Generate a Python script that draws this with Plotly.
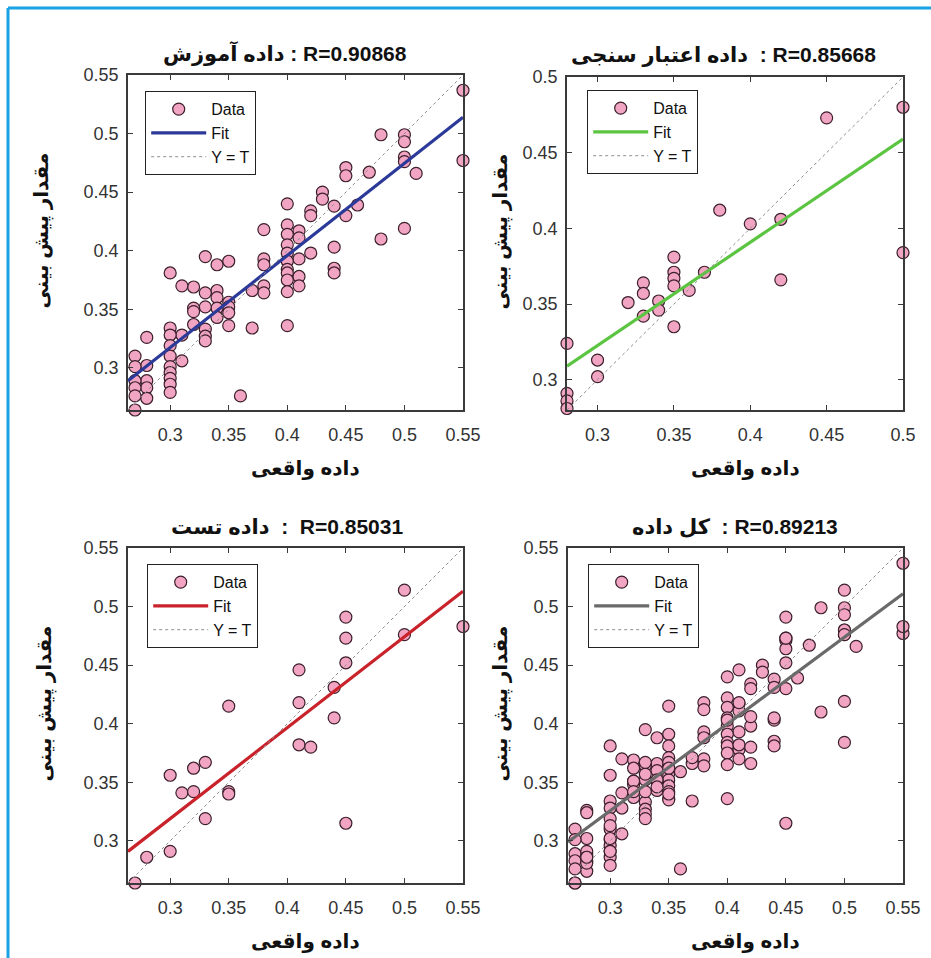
import plotly.graph_objects as go

# ---------------- data ----------------
train_x = [0.55, 0.55, 0.51, 0.50, 0.50, 0.50, 0.50, 0.50, 0.48, 0.48, 0.47, 0.46,
           0.45, 0.45, 0.45, 0.44, 0.44, 0.44, 0.44, 0.43, 0.43, 0.42, 0.42, 0.42,
           0.41, 0.41, 0.41, 0.41, 0.41,
           0.40, 0.40, 0.40, 0.40, 0.40, 0.40, 0.40, 0.40, 0.40, 0.40, 0.40,
           0.38, 0.38, 0.38, 0.38, 0.38, 0.37, 0.37, 0.36,
           0.35, 0.35, 0.35, 0.35, 0.35, 0.34, 0.34, 0.34, 0.34, 0.34,
           0.33, 0.33, 0.33, 0.33, 0.33, 0.33, 0.32, 0.32, 0.32, 0.32,
           0.31, 0.31, 0.31,
           0.30, 0.30, 0.30, 0.30, 0.30, 0.30, 0.30, 0.30, 0.30, 0.30,
           0.28, 0.28, 0.28, 0.28, 0.28,
           0.27, 0.27, 0.27, 0.27, 0.27, 0.27]
train_y = [0.537, 0.477, 0.466, 0.499, 0.493, 0.480, 0.476, 0.419, 0.499, 0.410, 0.467, 0.439,
           0.471, 0.464, 0.430, 0.438, 0.403, 0.385, 0.381, 0.450, 0.444, 0.434, 0.430, 0.398,
           0.417, 0.411, 0.393, 0.378, 0.370,
           0.440, 0.422, 0.414, 0.405, 0.398, 0.391, 0.384, 0.381, 0.375, 0.365, 0.336,
           0.418, 0.393, 0.388, 0.370, 0.364, 0.366, 0.334, 0.276,
           0.391, 0.356, 0.352, 0.347, 0.336, 0.388, 0.366, 0.360, 0.351, 0.343,
           0.395, 0.364, 0.352, 0.333, 0.327, 0.323, 0.369, 0.351, 0.348, 0.337,
           0.370, 0.328, 0.306,
           0.381, 0.334, 0.328, 0.319, 0.310, 0.301, 0.296, 0.291, 0.286, 0.279,
           0.326, 0.302, 0.289, 0.283, 0.274,
           0.310, 0.301, 0.289, 0.283, 0.276, 0.264]

val_x = [0.50, 0.50, 0.45, 0.42, 0.42, 0.40, 0.38, 0.37, 0.36, 0.35, 0.35, 0.35, 0.35,
         0.35, 0.34, 0.34, 0.33, 0.33, 0.33, 0.32, 0.30, 0.30, 0.28, 0.28, 0.28, 0.28]
val_y = [0.480, 0.384, 0.473, 0.406, 0.366, 0.403, 0.412, 0.371, 0.359, 0.381, 0.371, 0.367, 0.362,
         0.335, 0.352, 0.346, 0.364, 0.357, 0.342, 0.351, 0.313, 0.302, 0.324, 0.291, 0.286, 0.281]

test_x = [0.27, 0.28, 0.30, 0.30, 0.31, 0.32, 0.32, 0.33, 0.33, 0.35, 0.35, 0.35, 0.41,
          0.41, 0.41, 0.42, 0.44, 0.44, 0.45, 0.45, 0.45, 0.45, 0.50, 0.50, 0.55]
test_y = [0.264, 0.286, 0.291, 0.356, 0.341, 0.362, 0.342, 0.367, 0.319, 0.415, 0.342, 0.340, 0.446,
          0.418, 0.382, 0.380, 0.431, 0.405, 0.491, 0.473, 0.452, 0.315, 0.514, 0.476, 0.483]

all_x = train_x + val_x + test_x
all_y = train_y + val_y + test_y

# fit lines (end points)
fit_train_x, fit_train_y = [0.264, 0.55], [0.289, 0.514]
fit_val_x, fit_val_y = [0.28, 0.50], [0.309, 0.459]
fit_test_x, fit_test_y = [0.264, 0.55], [0.291, 0.513]
fit_all_x, fit_all_y = [0.264, 0.55], [0.299, 0.511]

# axis limits (Y = T line spans them)
range_train = [0.264, 0.55]
range_val = [0.28, 0.50]
range_test = [0.264, 0.55]
range_all = [0.264, 0.55]

ticks_a = [0.30, 0.35, 0.40, 0.45, 0.50, 0.55]
ticks_a_text = ["0.3", "0.35", "0.4", "0.45", "0.5", "0.55"]
ticks_b = [0.30, 0.35, 0.40, 0.45, 0.50]
ticks_b_text = ["0.3", "0.35", "0.4", "0.45", "0.5"]

titles = ["داده آموزش : R=0.90868",
          "داده اعتبار سنجی  : R=0.85668",
          "داده تست  :  R=0.85031",
          "کل داده  : R=0.89213"]
x_title = "داده واقعی"
y_title = "مقدار پیش بینی"
legend_names = ["Data", "Fit", "Y = T"]

# ---------------- style ----------------
W, H = 931, 958
FONT = "Liberation Sans, Arial, DejaVu Sans, sans-serif"
PINK = "#F2A5C2"
EDGE = "#3B1F2B"
fit_colors = ["#2B3A98", "#5BC440", "#C9222B", "#6A6A6A"]

def px_x(v):
    return v / W

def px_y(v):
    return 1 - v / H

panels = [
    dict(x=train_x, y=train_y, fx=fit_train_x, fy=fit_train_y, rng=range_train,
         ticks=(ticks_a, ticks_a_text), dx=(128, 463), dy=(75, 410), leg=(145, 91),
         title_right=409, ytitle_x=42),
    dict(x=val_x, y=val_y, fx=fit_val_x, fy=fit_val_y, rng=range_val,
         ticks=(ticks_b, ticks_b_text), dx=(567, 903), dy=(77, 410), leg=(587, 90),
         title_right=878, ytitle_x=500),
    dict(x=test_x, y=test_y, fx=fit_test_x, fy=fit_test_y, rng=range_test,
         ticks=(ticks_a, ticks_a_text), dx=(128, 463), dy=(548, 883), leg=(147, 564),
         title_right=405, ytitle_x=44),
    dict(x=all_x, y=all_y, fx=fit_all_x, fy=fit_all_y, rng=range_all,
         ticks=(ticks_a, ticks_a_text), dx=(568, 903), dy=(548, 883), leg=(588, 564),
         title_right=840, ytitle_x=500),
]

fig = go.Figure()
layout = dict(
    width=W, height=H,
    margin=dict(l=0, r=0, t=0, b=0, pad=0, autoexpand=False),
    paper_bgcolor="white", plot_bgcolor="white",
    font=dict(family=FONT, color="#222"),
    annotations=[], shapes=[],
)

for i, p in enumerate(panels):
    n = "" if i == 0 else str(i + 1)
    xa, ya = "x" + n, "y" + n
    leg = "legend" + n
    fig.add_trace(go.Scatter(
        x=p["x"], y=p["y"], mode="markers", name=legend_names[0],
        marker=dict(size=12, color=PINK, line=dict(color=EDGE, width=1.2)),
        xaxis=xa, yaxis=ya, legend=leg, cliponaxis=False))
    fig.add_trace(go.Scatter(
        x=p["fx"], y=p["fy"], mode="lines", name=legend_names[1],
        line=dict(color=fit_colors[i], width=3.2),
        xaxis=xa, yaxis=ya, legend=leg))
    fig.add_trace(go.Scatter(
        x=p["rng"], y=p["rng"], mode="lines", name=legend_names[2],
        line=dict(color="#8E8E8E", width=1, dash="dot"),
        xaxis=xa, yaxis=ya, legend=leg))

    axis_common = dict(
        showgrid=False, zeroline=False, showline=True, mirror="ticks",
        automargin=False,
        linecolor="#3a3a3a", linewidth=1.5, ticks="inside", ticklen=5,
        tickcolor="#3a3a3a", tickwidth=1,
        tickfont=dict(family=FONT, size=18, color="#333"),
        range=p["rng"], tickvals=p["ticks"][0], ticktext=p["ticks"][1],
    )
    layout["xaxis" + n] = dict(axis_common, domain=[px_x(p["dx"][0]), px_x(p["dx"][1])],
                               anchor=ya, ticklabelstandoff=8)
    layout["yaxis" + n] = dict(axis_common, domain=[px_y(p["dy"][1]), px_y(p["dy"][0])],
                               anchor=xa, ticklabelstandoff=4)
    layout[leg] = dict(
        x=px_x(p["leg"][0]), y=px_y(p["leg"][1]), xanchor="left", yanchor="top",
        bgcolor="white", bordercolor="#222", borderwidth=1.2,
        font=dict(family=FONT, size=16, color="#111"), itemwidth=55,
        tracegroupgap=0,
    )

    cx = (p["dx"][0] + p["dx"][1]) / 2
    cy = (p["dy"][0] + p["dy"][1]) / 2
    layout["annotations"] += [
        dict(text="<b>" + titles[i] + "</b>", xref="paper", yref="paper",
             x=px_x(p["title_right"]), y=px_y(p["dy"][0] - 22), xanchor="right",
             yanchor="middle",
             showarrow=False, font=dict(family=FONT, size=21, color="#111")),
        dict(text="<b>" + x_title + "</b>", xref="paper", yref="paper",
             x=px_x(cx + 10), y=px_y(p["dy"][1] + 58), xanchor="center", yanchor="middle",
             showarrow=False, font=dict(family=FONT, size=20, color="#111")),
        dict(text="<b>" + y_title + "</b>", xref="paper", yref="paper",
             x=px_x(p["ytitle_x"]), y=px_y(cy - 12), xanchor="center", yanchor="middle",
             textangle=-90, showarrow=False, font=dict(family=FONT, size=20, color="#111")),
    ]

layout["shapes"] += [
    dict(type="line", xref="paper", yref="paper", x0=px_x(8), x1=px_x(8), y0=0, y1=px_y(8),
         line=dict(color="#1AA3E3", width=3)),
    dict(type="line", xref="paper", yref="paper", x0=px_x(8), x1=1, y0=px_y(8), y1=px_y(8),
         line=dict(color="#1AA3E3", width=3)),
]

fig.update_layout(**layout)
fig.write_html(
    "out.html",
    config={"displayModeBar": False},
    post_script="document.body.style.margin='0';document.body.style.overflow='hidden';",
)
